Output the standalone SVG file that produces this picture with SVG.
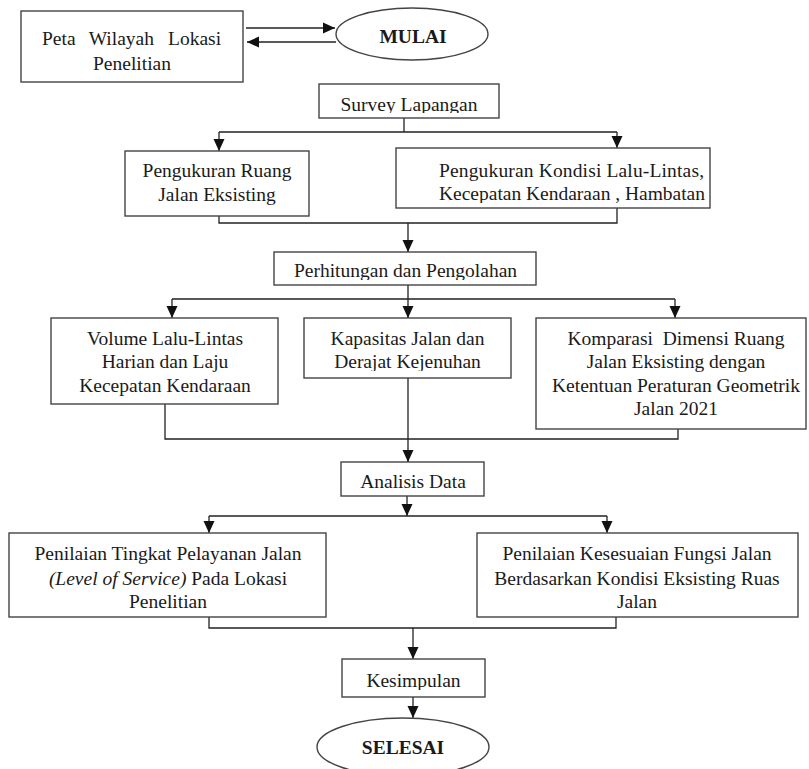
<svg xmlns="http://www.w3.org/2000/svg" width="809" height="769" viewBox="0 0 809 769">
<style>
.box{fill:#fff;stroke:#444;stroke-width:1.4}
.t{font-family:"Liberation Serif","Times New Roman",serif;font-size:19.5px;fill:#1a1a1a;text-anchor:middle}
.b{font-weight:bold}
.c{fill:none;stroke:#222;stroke-width:1.3}
.a{fill:none;stroke:#222;stroke-width:1.3;marker-end:url(#ah)}
</style>
<defs>
<marker id="ah" markerUnits="userSpaceOnUse" markerWidth="12" markerHeight="12" viewBox="0 0 12 12" refX="12" refY="6" orient="auto">
<path d="M0,0.5 L12,6 L0,11.5 z" fill="#111"/>
</marker>
<clipPath id="cSurvey"><rect x="319" y="84" width="180" height="29"/></clipPath>
<clipPath id="cKondisi"><rect x="396" y="148" width="314" height="55"/></clipPath>
<clipPath id="cHitung"><rect x="274" y="252" width="262" height="28"/></clipPath>
<clipPath id="cKapasitas"><rect x="304" y="318" width="207" height="53"/></clipPath>
<clipPath id="cKesimpulan"><rect x="342" y="659" width="143" height="31"/></clipPath>
</defs>
<rect width="809" height="769" fill="#fff"/>

<g id="connectors">
<path class="a" d="M246,28 H335"/>
<path class="a" d="M336,42 H247"/>
<path class="c" d="M404,118 V132 M219,132 H617"/>
<path class="a" d="M219,132 V151"/>
<path class="a" d="M617,132 V148"/>
<path class="c" d="M219,207 V223 H617 V207"/>
<path class="a" d="M408,223 V252"/>
<path class="c" d="M408,285 V299 M172,299 H675"/>
<path class="a" d="M172,299 V318"/>
<path class="a" d="M408,299 V318"/>
<path class="a" d="M675,299 V318"/>
<path class="c" d="M165,404 V439 H678 V429"/>
<path class="a" d="M408,378 V462"/>
<path class="a" d="M407,496 V516"/>
<path class="c" d="M209,516 H607"/>
<path class="a" d="M209,516 V533"/>
<path class="a" d="M607,516 V533"/>
<path class="c" d="M209,610 V628 H616 V610"/>
<path class="a" d="M413,628 V659"/>
<path class="a" d="M413,697 V718"/>
</g>

<g id="peta">
<rect class="box" x="21" y="11" width="222" height="71"/>
<text class="t" style="text-anchor:start" y="45"><tspan x="42">Peta</tspan><tspan x="88.7">Wilayah</tspan><tspan x="168">Lokasi</tspan></text>
<text class="t" x="132" y="70">Penelitian</text>
</g>

<g id="mulai">
<ellipse class="box" cx="412" cy="34" rx="76" ry="26"/>
<text class="t b" x="413" y="43">MULAI</text>
</g>

<g id="survey">
<rect class="box" x="319" y="84" width="180" height="34"/>
<text class="t" x="409" y="111" clip-path="url(#cSurvey)">Survey Lapangan</text>
</g>

<g id="ruang">
<rect class="box" x="125" y="151" width="184" height="65"/>
<text class="t" x="217" y="177">Pengukuran Ruang</text>
<text class="t" x="217" y="201">Jalan Eksisting</text>
</g>

<g id="kondisi">
<rect class="box" x="396" y="148" width="314" height="60"/>
<g clip-path="url(#cKondisi)">
<text class="t" style="text-anchor:start" x="439" y="177" textLength="265" lengthAdjust="spacing">Pengukuran Kondisi Lalu-Lintas,</text>
<text class="t" style="text-anchor:start" x="439" y="200" textLength="266" lengthAdjust="spacing">Kecepatan Kendaraan , Hambatan</text>
</g>
</g>

<g id="perhitungan">
<rect class="box" x="274" y="252" width="262" height="33"/>
<text class="t" x="405.5" y="277" clip-path="url(#cHitung)">Perhitungan dan Pengolahan</text>
</g>

<g id="volume">
<rect class="box" x="51" y="318" width="227" height="86"/>
<text class="t" x="165" y="345">Volume Lalu-Lintas</text>
<text class="t" x="165" y="368">Harian dan Laju</text>
<text class="t" x="165" y="392">Kecepatan Kendaraan</text>
</g>

<g id="kapasitas">
<rect class="box" x="304" y="318" width="207" height="60"/>
<g clip-path="url(#cKapasitas)">
<text class="t" x="407.5" y="345">Kapasitas Jalan dan</text>
<text class="t" x="407.5" y="368">Derajat Kejenuhan</text>
</g>
</g>

<g id="komparasi">
<rect class="box" x="536" y="318" width="270" height="111"/>
<text class="t" x="676" y="345" style="white-space:pre" xml:space="preserve">Komparasi  Dimensi Ruang</text>
<text class="t" x="676" y="368">Jalan Eksisting dengan</text>
<text class="t" x="676" y="392">Ketentuan Peraturan Geometrik</text>
<text class="t" x="676" y="415">Jalan 2021</text>
</g>

<g id="analisis">
<rect class="box" x="341" y="462" width="143" height="34"/>
<text class="t" x="413" y="488">Analisis Data</text>
</g>

<g id="los">
<rect class="box" x="9" y="533" width="317" height="84"/>
<text class="t" x="168" y="560">Penilaian Tingkat Pelayanan Jalan</text>
<text class="t" x="168" y="585"><tspan font-style="italic">(Level of Service)</tspan> Pada Lokasi</text>
<text class="t" x="168" y="608">Penelitian</text>
</g>

<g id="fungsi">
<rect class="box" x="477" y="533" width="321" height="84"/>
<text class="t" x="637" y="560">Penilaian Kesesuaian Fungsi Jalan</text>
<text class="t" x="637" y="585">Berdasarkan Kondisi Eksisting Ruas</text>
<text class="t" x="637" y="608">Jalan</text>
</g>

<g id="kesimpulan">
<rect class="box" x="342" y="659" width="143" height="38"/>
<text class="t" x="413.5" y="687" clip-path="url(#cKesimpulan)">Kesimpulan</text>
</g>

<g id="selesai">
<ellipse class="box" cx="403" cy="747" rx="86" ry="29"/>
<text class="t b" x="403" y="754">SELESAI</text>
</g>
</svg>
